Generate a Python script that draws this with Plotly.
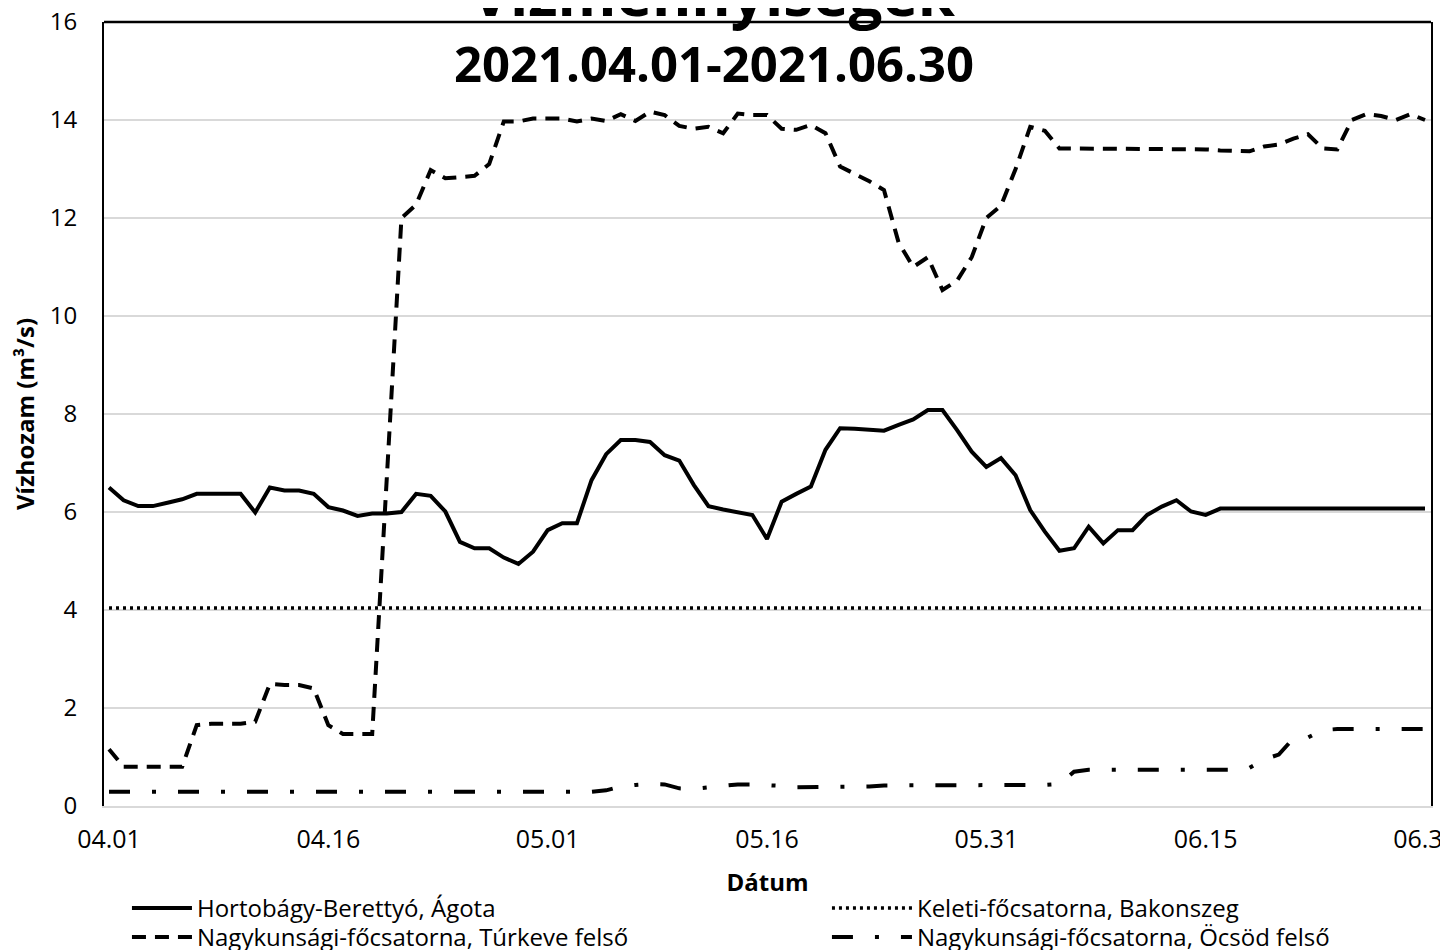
import pandas as pd
import plotly.graph_objects as go

# Dates (categories): 2021.04.01 - 2021.06.30, daily
dates = pd.date_range("2021-04-01", "2021-06-30", freq="D")

name_hort = "Hortobágy-Berettyó, Ágota"
name_kel = "Keleti-főcsatorna, Bakonszeg"
name_tur = "Nagykunsági-főcsatorna, Túrkeve felső"
name_ocs = "Nagykunsági-főcsatorna, Öcsöd felső"

hortobagy = [
    6.50, 6.24, 6.12, 6.12, 6.19, 6.26, 6.37, 6.37, 6.37, 6.37,
    5.99, 6.50, 6.44, 6.44, 6.37, 6.10, 6.03, 5.92, 5.97, 5.97,
    6.00, 6.37, 6.33, 6.01, 5.39, 5.26, 5.26, 5.07, 4.94, 5.19,
    5.63, 5.77, 5.77, 6.65, 7.18, 7.47, 7.47, 7.43, 7.16, 7.05,
    6.55, 6.12, 6.05, 6.00, 5.94, 5.45, 6.21, 6.37, 6.52, 7.27,
    7.71, 7.70, 7.67, 7.66, 7.78, 7.89, 8.08, 8.08, 7.67, 7.23,
    6.92, 7.10, 6.75, 6.04, 5.60, 5.21, 5.26, 5.70, 5.36, 5.63,
    5.63, 5.94, 6.11, 6.24, 6.01, 5.94, 6.07, 6.07, 6.07, 6.07,
    6.07, 6.07, 6.07, 6.07, 6.07, 6.07, 6.07, 6.07, 6.07, 6.07,
    6.07,
]

keleti = [4.04] * 91

turkeve = [
    1.16, 0.80, 0.80, 0.80, 0.80, 0.80, 1.65, 1.68, 1.68, 1.68,
    1.72, 2.49, 2.47, 2.47, 2.40, 1.65, 1.47, 1.47, 1.47, 6.70,
    12.00, 12.27, 12.98, 12.81, 12.84, 12.86, 13.10, 13.97, 13.97, 14.03,
    14.03, 14.03, 13.97, 14.03, 13.98, 14.12, 13.98, 14.17, 14.10, 13.88,
    13.82, 13.86, 13.73, 14.13, 14.10, 14.10, 13.82, 13.80, 13.90, 13.73,
    13.05, 12.90, 12.75, 12.57, 11.50, 11.00, 11.20, 10.53, 10.72, 11.20,
    12.00, 12.25, 13.00, 13.86, 13.78, 13.42, 13.42, 13.40, 13.40, 13.40,
    13.40, 13.40, 13.40, 13.42, 13.40, 13.40, 13.38, 13.36, 13.36, 13.46,
    13.50, 13.62, 13.71, 13.42, 13.40, 14.00, 14.12, 14.08, 14.00, 14.12,
    14.00,
]

ocsod = [
    0.29, 0.29, 0.29, 0.29, 0.29, 0.29, 0.29, 0.29, 0.29, 0.29,
    0.29, 0.29, 0.29, 0.29, 0.29, 0.29, 0.29, 0.29, 0.29, 0.29,
    0.29, 0.29, 0.29, 0.29, 0.29, 0.29, 0.29, 0.29, 0.29, 0.29,
    0.29, 0.29, 0.29, 0.29, 0.32, 0.40, 0.43, 0.45, 0.44, 0.36,
    0.35, 0.38, 0.43, 0.44, 0.44, 0.43, 0.41, 0.38, 0.38, 0.38,
    0.38, 0.38, 0.40, 0.42, 0.42, 0.43, 0.43, 0.43, 0.43, 0.43,
    0.43, 0.43, 0.43, 0.43, 0.43, 0.45, 0.70, 0.74, 0.74, 0.74,
    0.74, 0.74, 0.74, 0.74, 0.74, 0.74, 0.74, 0.74, 0.78, 0.95,
    1.05, 1.38, 1.40, 1.55, 1.57, 1.57, 1.57, 1.57, 1.57, 1.57,
    1.57,
]

title_text = "Vízmennyiségek"
subtitle_text = "2021.04.01-2021.06.30"
y_title = "Vízhozam (m³/s)"
x_title = "Dátum"

FONT = "Open Sans"

fig = go.Figure()
fig.add_trace(go.Scatter(x=dates, y=hortobagy, name=name_hort, mode="lines", legend="legend",
                         line=dict(color="black", width=4, dash="solid")))
fig.add_trace(go.Scatter(x=dates, y=keleti, name=name_kel, mode="lines", legend="legend2",
                         line=dict(color="black", width=3.5, dash="3px,4px")))
fig.add_trace(go.Scatter(x=dates, y=turkeve, name=name_tur, mode="lines", legend="legend3",
                         line=dict(color="black", width=4, dash="14px,9px")))
fig.add_trace(go.Scatter(x=dates, y=ocsod, name=name_ocs, mode="lines", legend="legend4",
                         line=dict(color="black", width=4, dash="21px,22px,4px,22px")))

day_ms = 86400000
x0 = pd.Timestamp("2021-04-01") - pd.Timedelta(hours=0.342 * 24)
x1 = pd.Timestamp("2021-06-30") + pd.Timedelta(hours=0.41 * 24)

legend_font = dict(family=FONT, size=24, color="black")
row1_y = -0.1020
row2_y = -0.1390
col1_x = 0.0173
col2_x = 0.5448


def leg(x, y, w):
    return dict(orientation="v", x=x, xanchor="left", y=y, yanchor="top",
                itemwidth=w, font=legend_font, bgcolor="rgba(0,0,0,0)",
                tracegroupgap=0)


# page body has an 8px margin, so the figure is 8px smaller than the window
fig.update_layout(
    width=1440, height=942,
    margin=dict(l=96, r=17, t=14, b=144, autoexpand=False),
    paper_bgcolor="white", plot_bgcolor="white",
    font=dict(family=FONT, color="black", size=22),
    showlegend=True,
    legend=leg(col1_x, row1_y, 60),
    legend2=leg(col2_x, row1_y, 80),
    legend3=leg(col1_x, row2_y, 60),
    legend4=leg(col2_x, row2_y, 80),
    xaxis=dict(type="date", range=[x0, x1], tick0="2021-04-01", dtick=15 * day_ms,
               tickformat="%m.%d", showgrid=False, zeroline=False,
               showline=True, linecolor="#d9d9d9", linewidth=2,
               ticks="", ticklabelstandoff=10, ticklabeloverflow="allow",
               automargin=False,
               tickfont=dict(family=FONT, size=25, color="black"),
               title=dict(text=x_title, standoff=20,
                          font=dict(family=FONT, size=24, color="black", weight="bold"))),
    yaxis=dict(range=[0, 16], tick0=0, dtick=2, showgrid=True, gridcolor="#d9d9d9",
               gridwidth=2, zeroline=False, showline=True, linecolor="black",
               linewidth=2, mirror=True, ticks="", ticklabelstandoff=20,
               ticklabeloverflow="allow", automargin=False,
               tickfont=dict(family=FONT, size=24, color="black"),
               title=dict(text=y_title, standoff=14,
                          font=dict(family=FONT, size=24, color="black", weight="bold"))),
    shapes=[dict(type="line", xref="paper", yref="paper", x0=0, x1=1, y0=1, y1=1,
                 line=dict(color="black", width=2.5))],
    annotations=[
        dict(text=title_text, xref="paper", yref="paper", x=0.459, y=1,
             xanchor="center", yanchor="middle", yshift=29, showarrow=False,
             font=dict(family=FONT, size=60, color="black", weight="bold")),
        dict(text=subtitle_text, xref="paper", yref="paper", x=0.460, y=1,
             xanchor="center", yanchor="middle", yshift=-41, showarrow=False,
             font=dict(family=FONT, size=49, color="black", weight="bold")),
    ],
)

fig.write_html("out.html")
